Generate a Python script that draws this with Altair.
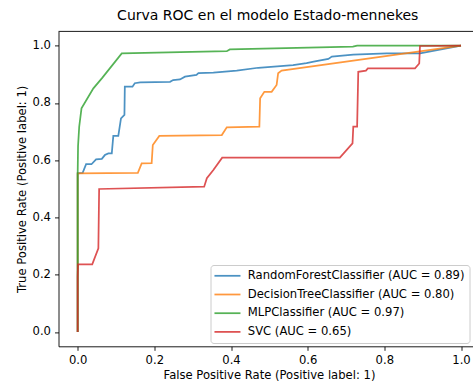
import altair as alt
import pandas as pd

labels = [
    "RandomForestClassifier (AUC = 0.89)",
    "DecisionTreeClassifier (AUC = 0.80)",
    "MLPClassifier (AUC = 0.97)",
    "SVC (AUC = 0.65)",
]
colors = ["#1f77b4", "#ff7f0e", "#2ca02c", "#d62728"]

rf_fpr = [0, 0, 0.013, 0.022, 0.036, 0.048, 0.063, 0.071, 0.080, 0.089, 0.093, 0.106,
          0.113, 0.122, 0.123, 0.143, 0.149, 0.163, 0.241, 0.249, 0.267, 0.280, 0.310,
          0.315, 0.354, 0.415, 0.471, 0.562, 0.597, 0.619, 0.654, 0.663, 0.719, 0.806,
          0.893, 1.0]
rf_tpr = [0, 0.554, 0.556, 0.586, 0.586, 0.603, 0.605, 0.618, 0.624, 0.624, 0.685, 0.685,
          0.746, 0.758, 0.857, 0.857, 0.869, 0.872, 0.874, 0.880, 0.882, 0.892, 0.898,
          0.904, 0.906, 0.913, 0.923, 0.932, 0.939, 0.945, 0.954, 0.962, 0.969, 0.973,
          0.973, 1.0]

dt_fpr = [0, 0, 0.157, 0.167, 0.193, 0.196, 0.213, 0.376, 0.389, 0.474, 0.476, 0.487,
          0.506, 0.519, 0.523, 0.532, 1.0]
dt_tpr = [0, 0.554, 0.556, 0.589, 0.590, 0.653, 0.685, 0.688, 0.715, 0.717, 0.816, 0.839,
          0.839, 0.863, 0.904, 0.913, 1.0]

mlp_fpr = [0, 0, 0.001, 0.004, 0.010, 0.041, 0.063, 0.115, 0.389, 0.397, 0.718, 0.729, 1.0]
mlp_tpr = [0, 0.55, 0.65, 0.717, 0.781, 0.851, 0.886, 0.973, 0.981, 0.987, 0.9965, 1.0, 1.0]

svc_fpr = [0, 0, 0.001, 0.038, 0.054, 0.056, 0.330, 0.337, 0.354, 0.377, 0.684, 0.717,
           0.719, 0.729, 0.732, 0.752, 0.757, 0.880, 0.891, 0.893, 1.0]
svc_tpr = [0, 0.193, 0.236, 0.236, 0.292, 0.4995, 0.5075, 0.537, 0.566, 0.609, 0.609, 0.659,
           0.717, 0.717, 0.909, 0.913, 0.921, 0.921, 0.938, 0.999, 1.0]

tick_values = [0.0, 0.2, 0.4, 0.6, 0.8, 1.0]

rows = []
for lab, xs, ys in zip(labels, [rf_fpr, dt_fpr, mlp_fpr, svc_fpr],
                       [rf_tpr, dt_tpr, mlp_tpr, svc_tpr]):
    for i, (a, b) in enumerate(zip(xs, ys)):
        rows.append({"model": lab, "fpr": a, "tpr": b, "i": i})
df = pd.DataFrame(rows)

FONT = "DejaVu Sans"
FS = 11.6
W = 414.5
H = 314.9

axis_common = dict(
    values=tick_values, format=".1f", grid=False,
    domainColor="black", domainWidth=0.9,
    tickColor="black", tickWidth=0.9, tickSize=4,
    labelFont=FONT, labelFontSize=FS, labelColor="black", labelPadding=4,
    labelFlush=False, labelOverlap=False,
    titleFont=FONT, titleFontSize=FS, titleFontWeight="normal", titleColor="black",
)

lines = alt.Chart(df).mark_line(strokeWidth=1.75, opacity=0.8, clip=True).encode(
    x=alt.X("fpr:Q",
            scale=alt.Scale(domain=[-0.05, 1.0313], nice=False, zero=False),
            axis=alt.Axis(title="False Positive Rate (Positive label: 1)",
                          titlePadding=3.5, titleX=210.5, **axis_common)),
    y=alt.Y("tpr:Q",
            scale=alt.Scale(domain=[-0.05, 1.05], nice=False, zero=False),
            axis=alt.Axis(title="True Positive Rate (Positive label: 1)",
                          titlePadding=5, **axis_common)),
    color=alt.Color("model:N",
                    scale=alt.Scale(domain=labels, range=colors),
                    sort=labels,
                    legend=alt.Legend(
                        orient="none", legendX=152, legendY=233.6, title=None,
                        symbolType="M-1.52,0L4.26,0", symbolSize=81,
                        symbolStrokeWidth=1.75, symbolOpacity=0.8, symbolOffset=0,
                        labelFont=FONT, labelFontSize=FS, labelColor="black",
                        labelLimit=400, labelOffset=20.7,
                        padding=5, rowPadding=5.7,
                        fillColor="rgba(255,255,255,0.8)", strokeColor="#cccccc",
                        cornerRadius=3)),
    order=alt.Order("i:Q"),
    detail="model:N",
)

top_frame = alt.Chart(pd.DataFrame({"tpr": [1.05]})).mark_rule(
    color="black", strokeWidth=0.9).encode(y="tpr:Q")

chart = alt.layer(lines, top_frame).properties(
    width=W, height=H,
    title=alt.TitleParams("Curva ROC en el modelo Estado-mennekes", font=FONT,
                          fontSize=14, fontWeight="normal", color="black",
                          anchor="middle", baseline="alphabetic", offset=3.6,
                          dx=2, dy=6.5),
    autosize=alt.AutoSizeParams(type="none"),
    padding={"left": 58.5, "top": 31.4, "right": 0, "bottom": 38.7},
    background="white",
).configure_view(stroke=None)

chart.save("out.html", embed_options={"renderer": "svg", "actions": False})
